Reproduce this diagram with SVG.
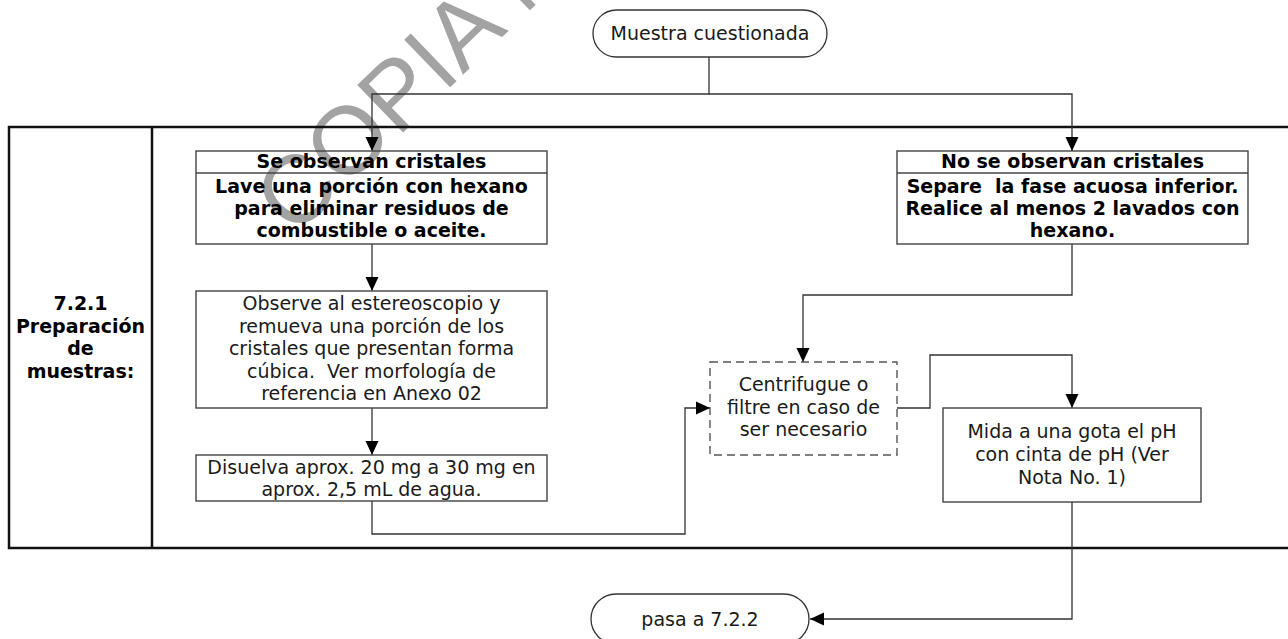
<svg xmlns="http://www.w3.org/2000/svg" width="1288" height="639" viewBox="0 0 1288 639">
<defs>
<marker id="arr" markerUnits="userSpaceOnUse" markerWidth="14" markerHeight="14" refX="14" refY="7" orient="auto" viewBox="0 0 14 14">
<path d="M0,0.5 L14,7 L0,13.5 z" fill="#000"/>
</marker>
<style>
.t{font-family:"DejaVu Sans","Verdana",sans-serif;font-size:19px;fill:#1a1a1a;text-anchor:middle}
.b{font-weight:bold;fill:#000}
.box{fill:none;stroke:#444;stroke-width:1.4}
.dash{fill:none;stroke:#555;stroke-width:1.4;stroke-dasharray:8,5}
.term{fill:none;stroke:#333;stroke-width:1.3}
.frame{fill:none;stroke:#111;stroke-width:2.5}
.c{fill:none;stroke:#333;stroke-width:1.3}
.wm{font-family:"Liberation Sans",Arial,sans-serif;font-size:96px;fill:#a3a3a3}
</style>
</defs>
<rect width="1288" height="639" fill="#fff"/>
<text class="wm" transform="translate(294,238) rotate(-44)">COPIA N</text>

<g id="lane">
<path class="frame" d="M1290,127 H9 V548 H1290"/>
<line class="frame" x1="152" y1="127" x2="152" y2="548"/>
<text class="t b" x="80.5" y="310">7.2.1</text>
<text class="t b" x="80.5" y="333">Preparación</text>
<text class="t b" x="80.5" y="355">de</text>
<text class="t b" x="80.5" y="378">muestras:</text>
</g>

<g id="connectors">
<path class="c" d="M709,57 V94 H372 V151" marker-end="url(#arr)"/>
<path class="c" d="M709,94 H1072 V151" marker-end="url(#arr)"/>
<path class="c" d="M372,244 V291" marker-end="url(#arr)"/>
<path class="c" d="M372,408 V455" marker-end="url(#arr)"/>
<path class="c" d="M372,501 V534 H685 V408 H710" marker-end="url(#arr)"/>
<path class="c" d="M1072,244 V295 H803 V362" marker-end="url(#arr)"/>
<path class="c" d="M897,408 H930 V355 H1072 V408" marker-end="url(#arr)"/>
<path class="c" d="M1072,502 V619 H810" marker-end="url(#arr)"/>
</g>

<g id="start">
<rect class="term" x="593" y="10" width="234" height="47" rx="23.5"/>
<text class="t" x="710" y="40">Muestra cuestionada</text>
</g>

<g id="se-observan">
<rect class="box" x="196" y="151" width="351" height="93"/>
<line class="box" x1="196" y1="173" x2="547" y2="173"/>
<text class="t b" x="371.5" y="167.5">Se observan cristales</text>
<text class="t b" x="371.5" y="193">Lave una porción con hexano</text>
<text class="t b" x="371.5" y="215">para eliminar residuos de</text>
<text class="t b" x="371.5" y="237">combustible o aceite.</text>
</g>

<g id="observe">
<rect class="box" x="196" y="291" width="351" height="117"/>
<text class="t" x="371.5" y="310">Observe al estereoscopio y</text>
<text class="t" x="371.5" y="332.5">remueva una porción de los</text>
<text class="t" x="371.5" y="355">cristales que presentan forma</text>
<text class="t" x="371.5" y="377.5" xml:space="preserve">cúbica.  Ver morfología de</text>
<text class="t" x="371.5" y="400">referencia en Anexo 02</text>
</g>

<g id="disuelva">
<rect class="box" x="196" y="455" width="351" height="46"/>
<text class="t" x="371.5" y="474">Disuelva aprox. 20 mg a 30 mg en</text>
<text class="t" x="371.5" y="496">aprox. 2,5 mL de agua.</text>
</g>

<g id="no-se-observan">
<rect class="box" x="897" y="151" width="351" height="93"/>
<line class="box" x1="897" y1="173" x2="1248" y2="173"/>
<text class="t b" x="1072.5" y="167.5">No se observan cristales</text>
<text class="t b" x="1072.5" y="193" xml:space="preserve">Separe  la fase acuosa inferior.</text>
<text class="t b" x="1072.5" y="215">Realice al menos 2 lavados con</text>
<text class="t b" x="1072.5" y="237">hexano.</text>
</g>

<g id="centrifugue">
<rect class="dash" x="710" y="362" width="187" height="93"/>
<text class="t" x="803.5" y="391">Centrifugue o</text>
<text class="t" x="803.5" y="414">filtre en caso de</text>
<text class="t" x="803.5" y="436">ser necesario</text>
</g>

<g id="mida">
<rect class="box" x="943" y="408" width="258" height="94"/>
<text class="t" x="1072" y="438">Mida a una gota el pH</text>
<text class="t" x="1072" y="461">con cinta de pH (Ver</text>
<text class="t" x="1072" y="484">Nota No. 1)</text>
</g>

<g id="end">
<rect class="term" x="591" y="594" width="218" height="50" rx="25"/>
<text class="t" x="700" y="626">pasa a 7.2.2</text>
</g>
</svg>
